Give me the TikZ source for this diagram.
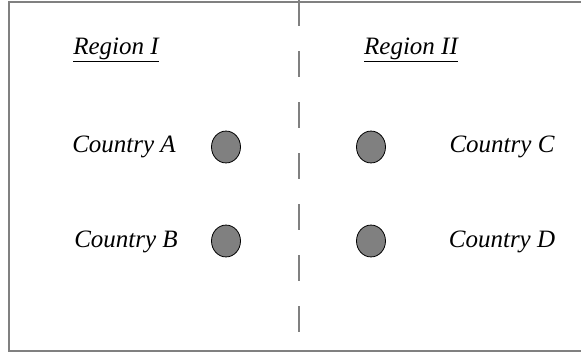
\documentclass[tikz,border=0pt]{standalone}
\usepackage{fontspec}
\setmainfont{Liberation Serif}
\usepackage{tikz}

\tikzset{
  country/.style={circle,draw=black,fill=gray,line width=0.8pt,minimum width=29pt,inner sep=0pt,yscale=1.1},
  lbl/.style={font=\fontsize{25}{27}\selectfont\itshape,inner sep=0pt}
}

\begin{document}
\begin{tikzpicture}[x=1pt,y=-1pt]
        \useasboundingbox (0,0) rectangle (581,354);
        \draw[gray,line width=2.2pt](600,2)--(9,2)--(9,351)--(600,351);
        \foreach \y in {0,51,...,306}
          \draw[gray,line width=2.2pt](299,\y) -- (299,\y+26);
        % regions
        \node[lbl] (r1) at (116,50) {\underline{Region I}};
        \node[lbl] (r2) at (411,50) {\underline{Region II}};
        % countries
        \node[country] (a) at (226,147) {};
        \node[country] (b) at (226,241) {};
        \node[country] (c) at (371,147) {};
        \node[country] (d) at (371,241) {};
        \node[lbl] (la) at (124,147) {Country A};
        \node[lbl] (lb) at (126,242) {Country B};
        \node[lbl] (lc) at (502,147) {Country C};
        \node[lbl] (ld) at (502,242) {Country D};
      \end{tikzpicture}
\end{document}
